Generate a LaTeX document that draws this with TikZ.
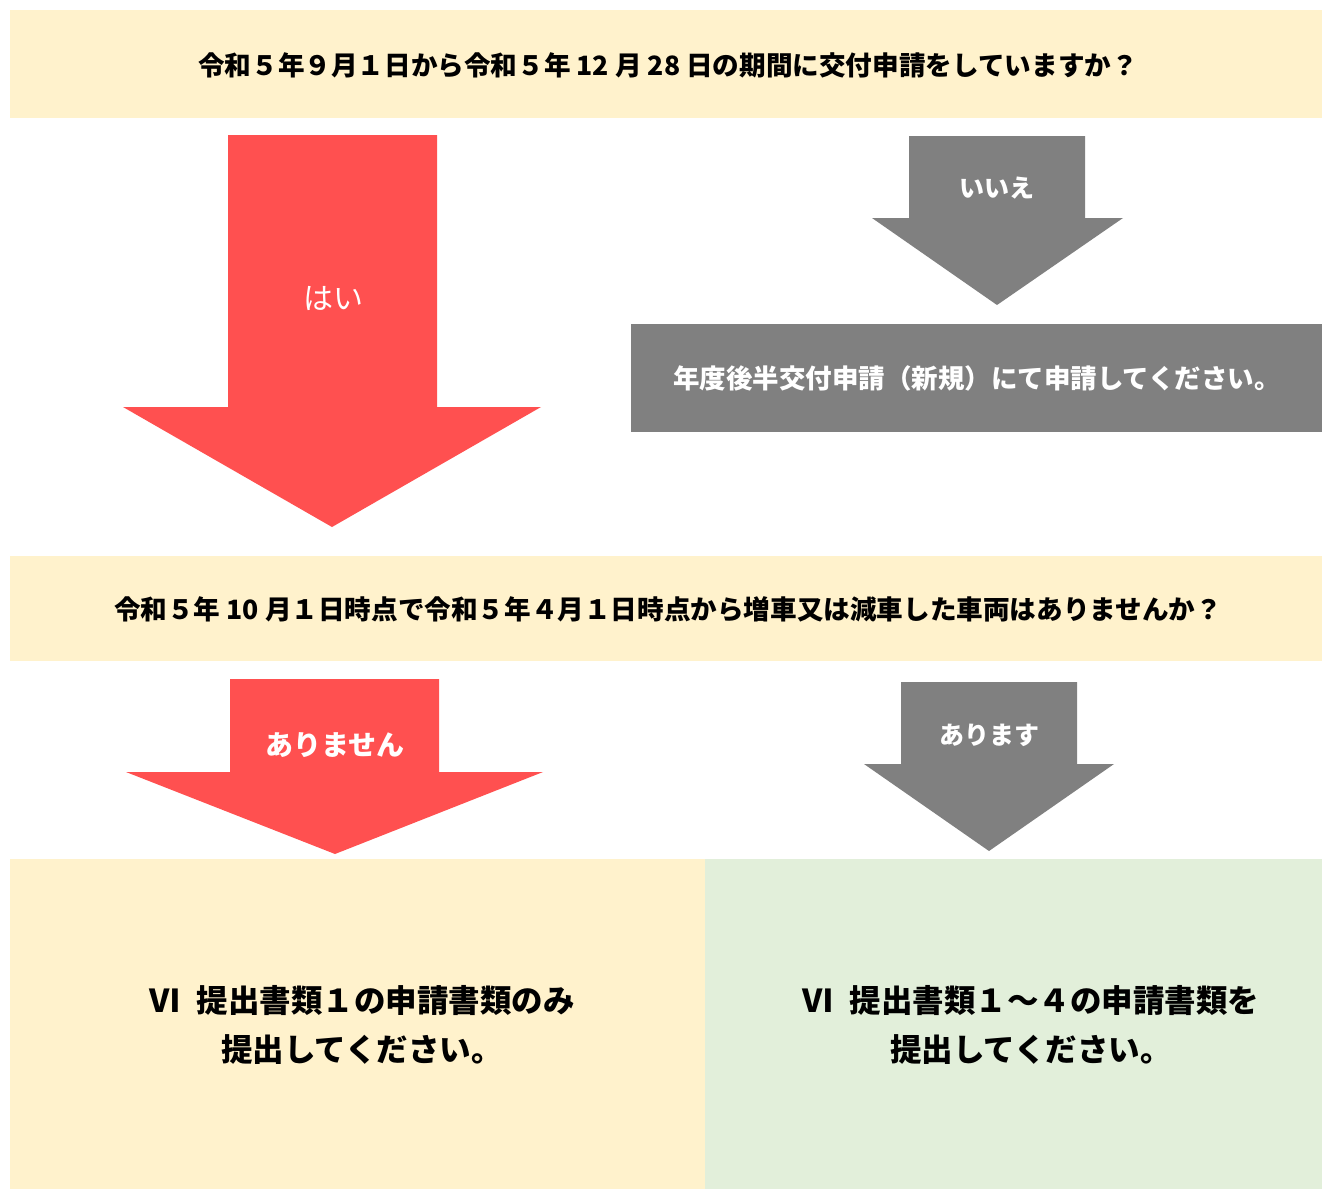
\documentclass[tikz,border=0pt]{standalone}
\usepackage{fontspec}
\setmainfont{Noto Sans CJK JP}
\definecolor{qbg}{HTML}{FFF2CC}
\definecolor{gbg}{HTML}{E2EFDA}
\definecolor{redc}{HTML}{FF5050}
\definecolor{grayc}{HTML}{808080}
\begin{document}
\begin{tikzpicture}[x=1pt,y=-1pt,
  panel/.style={inner sep=0pt, outer sep=0pt, anchor=north west, text=black},
  qtext/.style={font=\fontsize{26.6}{30}\selectfont\bfseries},
  arrowlab/.style={text=white, inner sep=0pt, font=\fontsize{26.5}{30}\selectfont\bfseries},
  restext/.style={font=\fontsize{31.5}{49}\selectfont\bfseries, align=center, text=black}]
\useasboundingbox (0,0) rectangle (1322,1189);
\fill[white] (0,0) rectangle (1322,1189);
% question 1
\node[panel, fill=qbg, minimum width=1312pt, minimum height=108pt] (q1) at (10,10) {};
\node[qtext] (q1t) at (668,65) {令和５年９月１日から令和５年 12 月 28 日の期間に交付申請をしていますか？};
% yes arrow 1
\fill[redc] (228,135) -- (437,135) -- (437,407) -- (541,407) -- (332,527) -- (123,407) -- (228,407) -- cycle;
\node[arrowlab, font=\fontsize{30}{32}\selectfont] (yes1) at (333,298) {はい};
% no arrow 1
\fill[grayc] (909,136) -- (1085,136) -- (1085,218) -- (1123,218) -- (997,305) -- (872,218) -- (909,218) -- cycle;
\node[arrowlab, font=\fontsize{25}{30}\selectfont\bfseries] (no1) at (997,188) {いいえ};
% gray result box
\node[panel, fill=grayc, minimum width=691pt, minimum height=108pt] (r0) at (631,324) {};
\node[arrowlab] (r0t) at (977,378) {年度後半交付申請（新規）にて申請してください。};
% question 2
\node[panel, fill=qbg, minimum width=1312pt, minimum height=105pt] (q2) at (10,556) {};
\node[qtext] (q2t) at (668,609) {令和５年 10 月１日時点で令和５年４月１日時点から増車又は減車した車両はありませんか？};
% yes arrow 2
\fill[redc] (230,679) -- (439,679) -- (439,772) -- (543,772) -- (335,854) -- (126,772) -- (230,772) -- cycle;
\node[arrowlab, font=\fontsize{28}{32}\selectfont\bfseries] (yes2) at (335,745) {ありません};
% no arrow 2
\fill[grayc] (901,682) -- (1077,682) -- (1077,764) -- (1114,764) -- (989,851) -- (864,764) -- (901,764) -- cycle;
\node[arrowlab, font=\fontsize{25}{30}\selectfont\bfseries] (no2) at (989,735) {あります};
% result boxes
\node[panel, fill=qbg, minimum width=695pt, minimum height=330pt] (r1) at (10,859) {};
\node[panel, fill=gbg, minimum width=617pt, minimum height=330pt] (r2) at (705,859) {};
\node[restext] (r1t) at (362,1025) {Ⅵ\hspace{0.5em}提出書類１の申請書類のみ\\提出してください。};
\node[restext] (r2t) at (1031,1025) {Ⅵ\hspace{0.5em}提出書類１～４の申請書類を\\提出してください。};
\end{tikzpicture}
\end{document}
